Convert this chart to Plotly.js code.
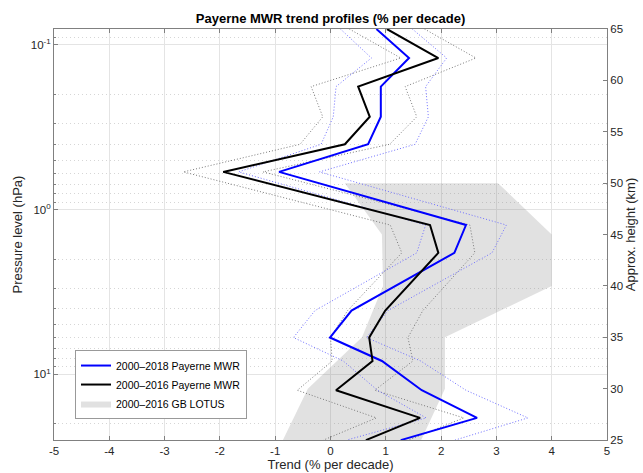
<!DOCTYPE html>
<html>
<head>
<meta charset="utf-8">
<script src="https://cdn.plot.ly/plotly-3.0.1.min.js"></script>
<style>html,body{margin:0;padding:0;background:#fff;}#chart{width:643px;height:473px;}</style>
</head>
<body>
<div id="chart"></div>
<script>
// MWR pressure levels (hPa)
const pressure = [0.08, 0.120, 0.179, 0.273, 0.401, 0.590, 1.24, 1.83, 4.10, 5.98, 8.30, 12.5, 18.4, 25.1];
// 2000–2018 Payerne MWR trend (% per decade) and its bounds
const trend2018 = [0.83, 1.42, 0.91, 0.91, 0.68, -0.93, 2.45, 2.24, 0.38, -0.01, 0.93, 1.65, 2.65, 1.27];
const low2018   = [0.18, 0.74, 0.10, 0.05, -0.17, -1.66, 1.72, 1.56, -0.28, -0.67, 0.23, 0.85, 1.73, 0.29];
const high2018  = [1.48, 2.10, 1.72, 1.77, 1.53, -0.20, 3.18, 2.92, 1.04, 0.65, 1.63, 2.45, 3.57, 2.25];
// 2000–2016 Payerne MWR trend and its bounds
const trend2016 = [1.02, 1.95, 0.50, 0.71, 0.26, -1.94, 1.80, 1.95, 0.99, 0.70, 0.76, 0.10, 1.62, 0.64];
const low2016   = [0.34, 1.27, -0.35, -0.14, -0.55, -2.66, 1.08, 1.29, 0.31, 0.00, 0.03, -0.60, 0.83, -0.13];
const high2016  = [1.70, 2.63, 1.35, 1.56, 1.07, -1.22, 2.52, 2.61, 1.67, 1.40, 1.49, 0.80, 2.41, 1.41];
// 2000–2016 GB LOTUS range, by approximate height (km)
const lotusHeight = [50, 45, 40, 35, 30, 25];
const lotusLow    = [0.26, 0.93, 0.95, 0.57, -0.41, -0.86];
const lotusHigh   = [3.03, 4.00, 4.00, 2.07, 2.07, 1.64];
// tick labels
const xTicks = [-5, -4, -3, -2, -1, 0, 1, 2, 3, 4, 5];
const xTickText = ['-5', '-4', '-3', '-2', '-1', '0', '1', '2', '3', '4', '5'];
const pTickVals = [0.1, 1, 10];
const pTickText = ['10<sup>-1</sup>', '10<sup>0</sup>', '10<sup>1</sup>'];
const pMinorVals = [0.09, 0.2, 0.3, 0.4, 0.5, 0.6, 0.7, 0.8, 0.9, 2, 3, 4, 5, 6, 7, 8, 9, 20];
const kmTicks = [25, 30, 35, 40, 45, 50, 55, 60, 65];

const FONT = 'Liberation Sans, Arial, sans-serif';
const TXT = '#262626';
const AXL = '#808080';
const DOTS = '1px,2px';

const traces = [
  {
    x: lotusLow.concat(lotusHigh.slice().reverse()),
    y: lotusHeight.concat(lotusHeight.slice().reverse()),
    yaxis: 'y', xaxis: 'x',
    type: 'scatter', mode: 'lines', fill: 'toself',
    fillcolor: 'rgba(128,128,128,0.24)',
    line: {width: 0, color: 'rgba(0,0,0,0)'},
    name: '2000–2016 GB LOTUS', legendrank: 3, hoverinfo: 'skip'
  },
  {x: low2016, y: pressure, yaxis: 'y2', type: 'scatter', mode: 'lines',
   line: {color: '#7a7a7a', width: 1, dash: DOTS}, showlegend: false, hoverinfo: 'skip'},
  {x: high2016, y: pressure, yaxis: 'y2', type: 'scatter', mode: 'lines',
   line: {color: '#7a7a7a', width: 1, dash: DOTS}, showlegend: false, hoverinfo: 'skip'},
  {x: low2018, y: pressure, yaxis: 'y2', type: 'scatter', mode: 'lines',
   line: {color: '#6f6fff', width: 1, dash: DOTS}, showlegend: false, hoverinfo: 'skip'},
  {x: high2018, y: pressure, yaxis: 'y2', type: 'scatter', mode: 'lines',
   line: {color: '#6f6fff', width: 1, dash: DOTS}, showlegend: false, hoverinfo: 'skip'},
  {x: trend2018, y: pressure, yaxis: 'y2', type: 'scatter', mode: 'lines',
   line: {color: '#0000ff', width: 2}, name: '2000–2018 Payerne MWR', legendrank: 1},
  {x: trend2016, y: pressure, yaxis: 'y2', type: 'scatter', mode: 'lines',
   line: {color: '#000000', width: 2}, name: '2000–2016 Payerne MWR', legendrank: 2}
];

const layout = {
  width: 643, height: 473,
  margin: {l: 54, r: 36, t: 29, b: 33, pad: 0},
  paper_bgcolor: '#ffffff', plot_bgcolor: '#ffffff',
  font: {family: FONT, size: 11, color: TXT},
  showlegend: true,
  title: {
    text: 'Payerne MWR trend profiles (% per decade)',
    font: {family: FONT, size: 13, color: '#000', weight: 'bold'},
    x: 0.5, xref: 'paper', xanchor: 'center',
    y: 1 - 18 / 473, yref: 'container', yanchor: 'middle'
  },
  xaxis: {
    range: [-5, 5], tickmode: 'array', tickvals: xTicks, ticktext: xTickText,
    ticks: 'inside', ticklen: 4, tickcolor: AXL,
    showline: true, linecolor: AXL, linewidth: 1, mirror: 'ticks',
    showgrid: true, gridcolor: '#e4e4e4', gridwidth: 1, zeroline: false,
    tickfont: {family: FONT, size: 11.5, color: TXT},
    title: {text: 'Trend (% per decade)', font: {family: FONT, size: 13, color: TXT}, standoff: 2},
    automargin: false
  },
  yaxis: {
    range: [25, 65], tickmode: 'array', tickvals: kmTicks, side: 'right',
    ticks: 'inside', ticklen: 4, tickcolor: AXL,
    showline: true, linecolor: AXL, linewidth: 1,
    showgrid: false, zeroline: false,
    tickfont: {family: FONT, size: 11.5, color: TXT},
    title: {text: 'Approx. height (km)', font: {family: FONT, size: 13, color: TXT}, standoff: 3},
    automargin: false
  },
  yaxis2: {
    type: 'log', range: [1.399, -1.097], overlaying: 'y', side: 'left',
    tickmode: 'array', tickvals: pTickVals, ticktext: pTickText,
    ticks: 'inside', ticklen: 4, tickcolor: AXL,
    showline: true, linecolor: AXL, linewidth: 1,
    showgrid: true, gridcolor: '#e4e4e4', gridwidth: 1, zeroline: false,
    minor: {tickmode: 'array', tickvals: pMinorVals, ticks: 'inside', ticklen: 2, tickcolor: AXL,
            showgrid: true, gridcolor: '#d6d6d6', gridwidth: 1, griddash: '1px,3px'},
    tickfont: {family: FONT, size: 11.5, color: TXT},
    title: {text: 'Pressure level (hPa)', font: {family: FONT, size: 13, color: TXT}, standoff: 5},
    automargin: false
  },
  legend: {
    x: 0.038, xanchor: 'left', y: 0.051, yanchor: 'bottom',
    bgcolor: '#ffffff', bordercolor: '#999999', borderwidth: 1,
    font: {family: FONT, size: 10.5, color: '#000'},
    tracegroupgap: 0
  }
};

Plotly.newPlot('chart', traces, layout, {displayModeBar: false, staticPlot: true});
</script>
</body>
</html>
